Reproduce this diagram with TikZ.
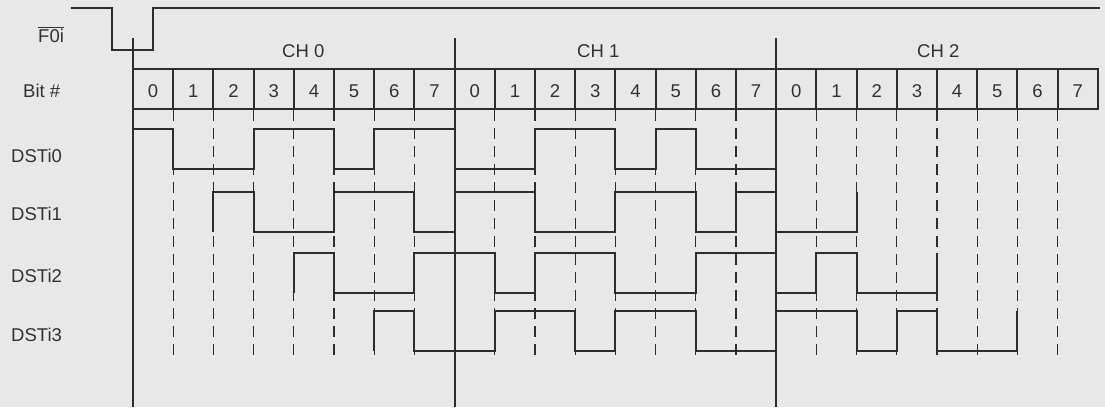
\documentclass[tikz,border=0pt]{standalone}
\usepackage{fontspec}
\setmainfont{Liberation Sans}
\definecolor{fondo}{RGB}{232,232,232}
\definecolor{trazo}{RGB}{45,45,45}
\definecolor{texto}{RGB}{50,50,50}
\begin{document}
\begin{tikzpicture}[x=1pt, y=-1pt,
    senal/.style={trazo, line width=2pt},
    guia/.style={trazo, line width=1.2pt, dash pattern=on 11pt off 7pt},
    etiqueta/.style={texto, font=\fontsize{18.5}{20}\selectfont, inner sep=0pt}]

        % Fondo
        \fill[fondo] (0,0) rectangle (1105,407);
        \useasboundingbox (0,0) rectangle (1105,407);

        % Trama F0i
        \draw[senal] (71,8) -- (112,8) -- (112,50) -- (153,50) -- (153,8) -- (1100,8);
        \node[etiqueta, anchor=base west] (f0i) at (38,42) {$\overline{\hbox{F0i}}$};

        % Etiquetas de las filas
        \node[etiqueta, anchor=base west] (bit) at (23,97) {Bit \#};
        \node[etiqueta, anchor=base west] (dsti0) at (11,162) {DSTi0};
        \node[etiqueta, anchor=base west] (dsti1) at (11,220) {DSTi1};
        \node[etiqueta, anchor=base west] (dsti2) at (11,282) {DSTi2};
        \node[etiqueta, anchor=base west] (dsti3) at (11,341) {DSTi3};

        % Canales
        \node[etiqueta, anchor=base west] (ch0) at (282,57) {CH 0};
        \node[etiqueta, anchor=base west] (ch1) at (577,57) {CH 1};
        \node[etiqueta, anchor=base west] (ch2) at (917,57) {CH 2};

        \begin{scope}[xshift=133pt, x=40.2pt]
            % Lineas guia de cada bit
            \foreach \k in {1,...,7,9,10,...,15,17,18,...,23}
                \draw[guia] (\k,110) -- (\k,356);

            % Fila de bits
            \draw[senal] (0,69) rectangle (24,109);
            \foreach \k in {1,...,23}
                \draw[senal] (\k,69) -- (\k,109);
            \foreach \k in {0,...,23} {
                \pgfmathtruncatemacro{\nbit}{mod(\k,8)}
                \node[etiqueta, anchor=base] (bit\k) at (\k+0.5,97) {\nbit};
            }

            % Marco y separadores de canal
            \draw[senal] (0,38) -- (0,407);
            \draw[senal] (8,38) -- (8,407);
            \draw[senal] (16,38) -- (16,407);

            % Senales DSTi, dos bits de retardo entre una y otra
            \foreach \s/\t in {0/129, 2/192, 4/253, 6/311}
                \draw[senal, shift={(\s,\t)}] (0,40) -- (0,0) -- (1,0) -- (1,40) -- (3,40) -- (3,0) -- (5,0) -- (5,40) -- (6,40) -- (6,0) -- (8,0) -- (8,40) -- (10,40) -- (10,0) -- (12,0) -- (12,40) -- (13,40) -- (13,0) -- (14,0) -- (14,40) -- (16,40) -- (16,0);
        \end{scope}

    \end{tikzpicture}
\end{document}
